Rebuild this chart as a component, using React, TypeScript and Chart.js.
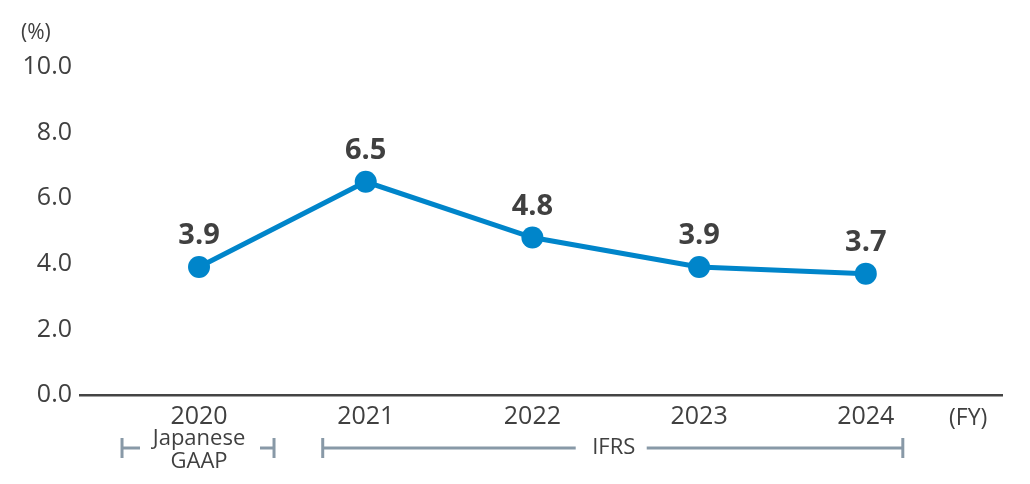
import React, { useEffect, useRef } from "react";
import { Chart, registerables } from "chart.js";

Chart.register(...registerables);

const years = ["2020", "2021", "2022", "2023", "2024"];
const values = [3.9, 6.5, 4.8, 3.9, 3.7];
const yTicks = [0, 2, 4, 6, 8, 10];

const FONT = "'Open Sans', 'Noto Sans', sans-serif";
const TEXT = "#404040";
const BLUE = "#0085ca";
const BRACKET = "#8899a7";

const overlay = {
  id: "overlay",
  afterDatasetsDraw(chart: any) {
    const ctx = chart.ctx;
    const meta = chart.getDatasetMeta(0);
    ctx.save();
    // data labels
    ctx.fillStyle = TEXT;
    ctx.font = `bold 29px ${FONT}`;
    ctx.textAlign = "center";
    ctx.textBaseline = "middle";
    meta.data.forEach((pt: any, i: number) => {
      ctx.fillText(values[i].toFixed(1), pt.x, pt.y - 31);
    });
    // unit labels
    ctx.font = `21px ${FONT}`;
    ctx.textAlign = "left";
    ctx.fillText("(%)", 21, 33);
    ctx.font = `23px ${FONT}`;
    ctx.fillText("(FY)", 949, 418);

    // brackets
    const xs = chart.scales.x;
    const y = 448;
    ctx.strokeStyle = BRACKET;
    ctx.lineWidth = 3;
    const vtick = (x: number) => {
      ctx.beginPath();
      ctx.moveTo(x, y - 10);
      ctx.lineTo(x, y + 10);
      ctx.stroke();
    };
    const hline = (a: number, b: number) => {
      ctx.beginPath();
      ctx.moveTo(a, y);
      ctx.lineTo(b, y);
      ctx.stroke();
    };
    const c0 = xs.getPixelForValue(0);
    vtick(c0 - 77);
    hline(c0 - 77, c0 - 59);
    hline(c0 + 61, c0 + 75);
    vtick(c0 + 75);
    const c1 = xs.getPixelForValue(1);
    const c4 = xs.getPixelForValue(4);
    const mid = c1 + 248;
    vtick(c1 - 43);
    hline(c1 - 43, mid - 38);
    hline(mid + 33, c4 + 37);
    vtick(c4 + 37);

    ctx.fillStyle = TEXT;
    ctx.textAlign = "center";
    ctx.font = `22px ${FONT}`;
    ctx.fillText("Japanese", c0, 439);
    ctx.fillText("GAAP", c0, 462);
    ctx.fillText("IFRS", mid, 448);
    ctx.restore();
  },
};

export default function App() {
  const ref = useRef<HTMLCanvasElement>(null);
  useEffect(() => {
    document.body.style.margin = "0";
    const chart = new Chart(ref.current!, {
      type: "line",
      data: {
        datasets: [
          {
            data: values.map((v, i) => ({ x: i, y: v })),
            borderColor: BLUE,
            backgroundColor: BLUE,
            borderWidth: 5,
            pointRadius: 11,
            pointHoverRadius: 11,
            pointBackgroundColor: BLUE,
            pointBorderWidth: 0,
            tension: 0,
          },
        ],
      },
      options: {
        animation: false,
        responsive: false,
        maintainAspectRatio: false,
        layout: { padding: { top: 67, right: 28, left: 0, bottom: 0 } },
        plugins: { legend: { display: false }, tooltip: { enabled: false } },
        scales: {
          x: {
            type: "linear",
            min: -0.714,
            max: 4.817,
            afterBuildTicks(scale: any) {
              scale.ticks = years.map((_, i) => ({ value: i }));
            },
            afterFit(scale: any) {
              scale.height = 89;
            },
            grid: { display: false, drawTicks: false },
            border: { display: true, color: "#444444", width: 2.5 },
            ticks: {
              autoSkip: false,
              maxRotation: 0,
              padding: 7,
              color: TEXT,
              font: { family: FONT, size: 25 },
              callback: (v: any) => years[v] ?? "",
            },
          },
          y: {
            min: 0,
            max: 10,
            afterBuildTicks(scale: any) {
              scale.ticks = yTicks.map((v) => ({ value: v }));
            },
            afterFit(scale: any) {
              scale.width = 80;
            },
            grid: { display: false, drawTicks: false },
            border: { display: false },
            ticks: {
              padding: 8,
              color: TEXT,
              font: { family: FONT, size: 25 },
              callback: (v: any) => Number(v).toFixed(1),
            },
          },
        },
      },
      plugins: [overlay],
    });
    return () => chart.destroy();
  }, []);
  return (
    <div style={{ width: 1030, height: 484 }}>
      <canvas ref={ref} width={1030} height={484} style={{ display: "block" }} />
    </div>
  );
}
